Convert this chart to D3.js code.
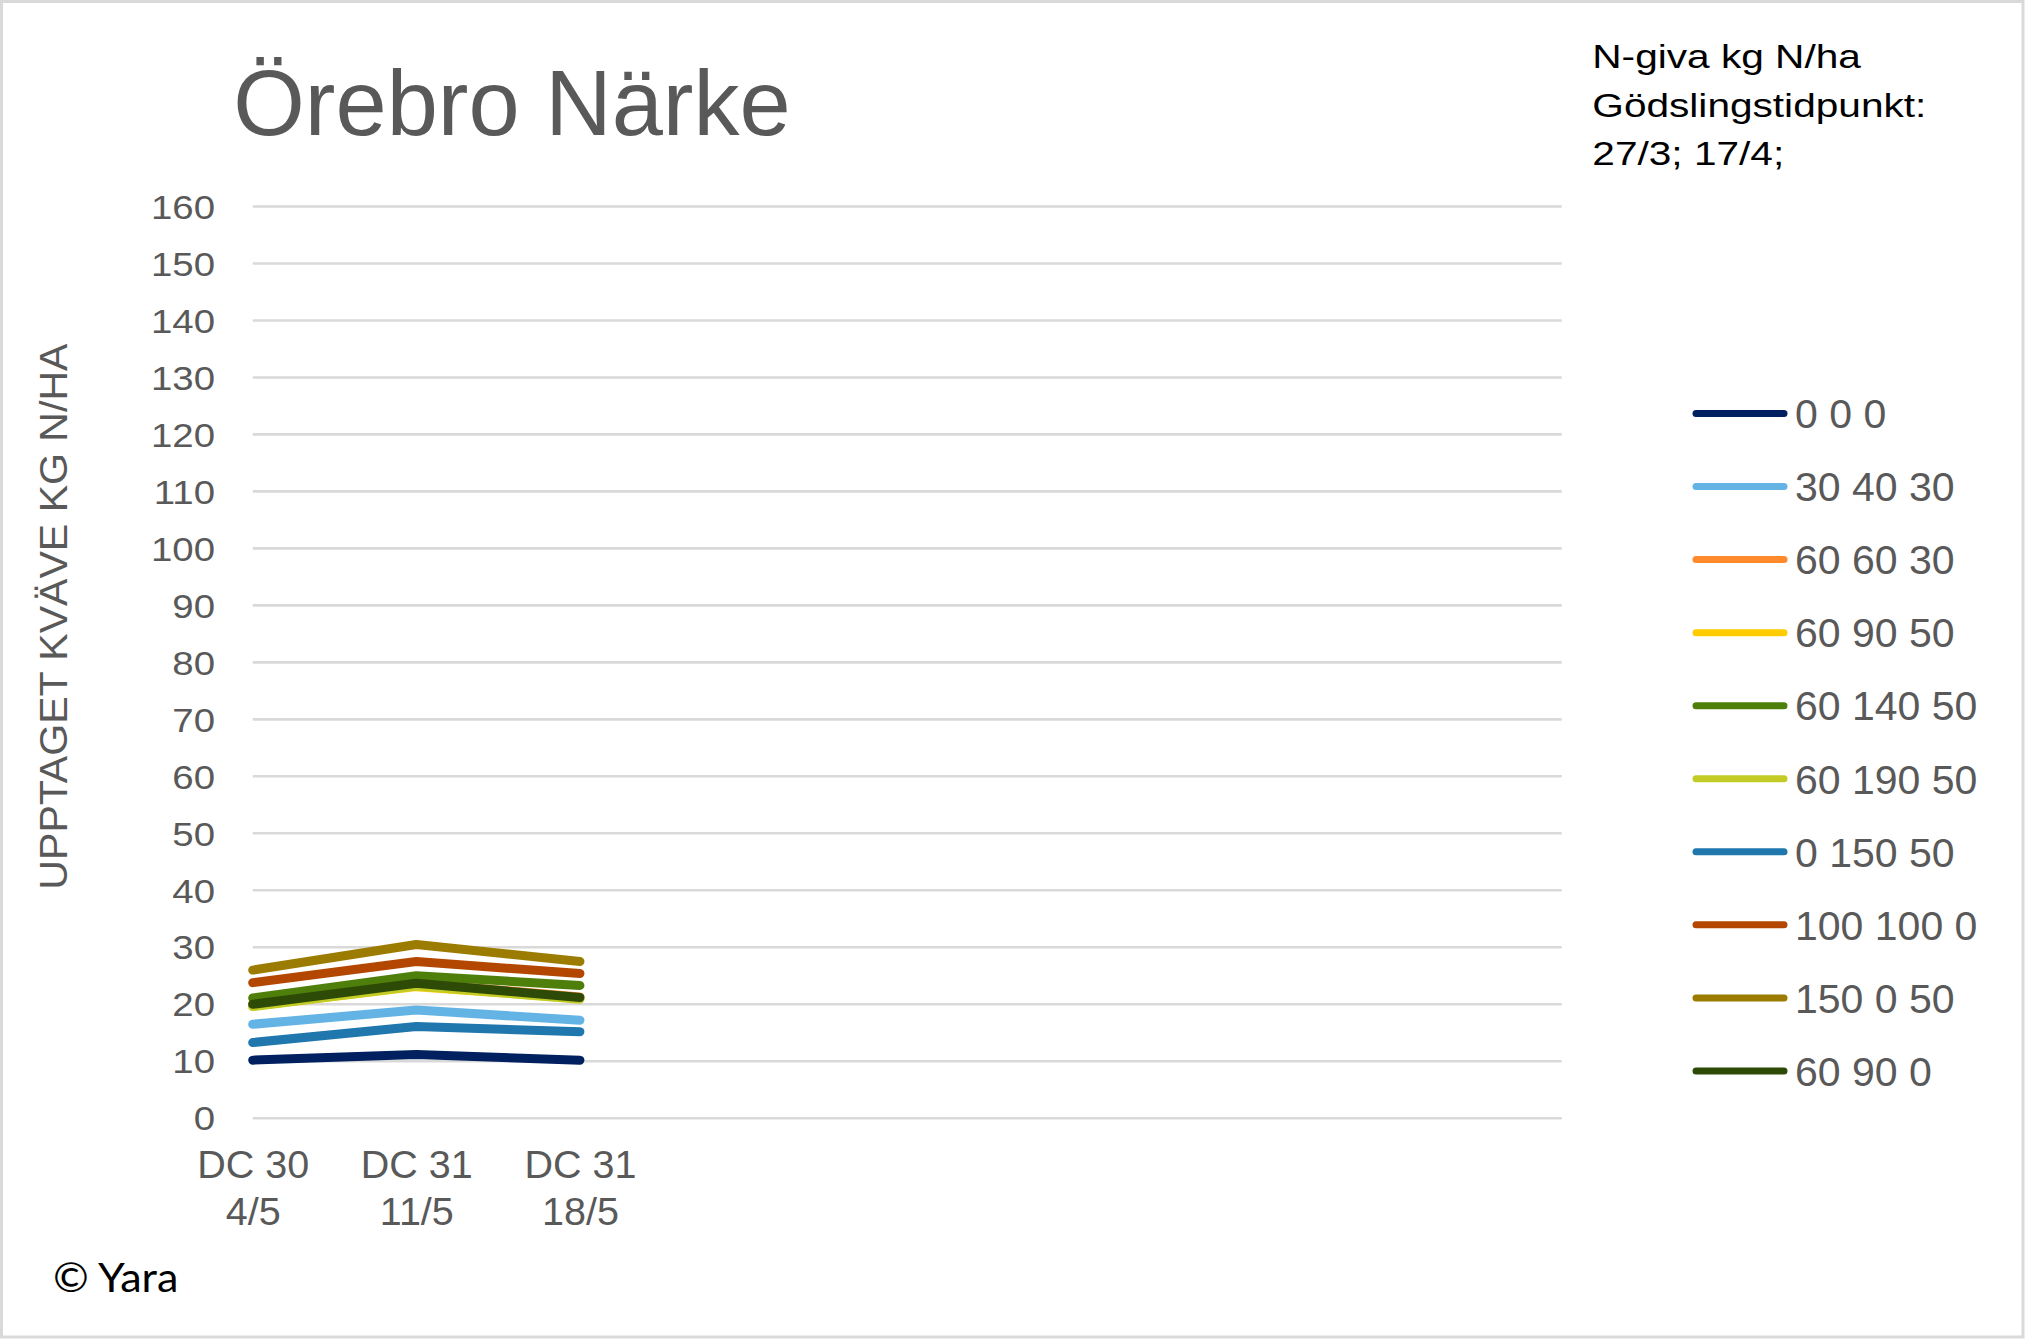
<!DOCTYPE html>
<html>
<head>
<meta charset="utf-8">
<script src="https://cdn.jsdelivr.net/npm/d3@7"></script>
<style>
  html, body { margin: 0; padding: 0; background: #fff; }
  svg { display: block; }
</style>
</head>
<body>
<svg id="chart" width="2026" height="1340"></svg>
<script>
// ---- data ----
const categories = [["DC 30", "4/5"], ["DC 31", "11/5"], ["DC 31", "18/5"], ["", ""], ["", ""], ["", ""], ["", ""], ["", ""], ["", ""]];
const seriesNames = ["0 0 0", "30 40 30", "60 60 30", "60 90 50", "60 140 50", "60 190 50", "0 150 50", "100 100 0", "150 0 50", "60 90 0"];
const seriesColors = ["#002060", "#63B4E4", "#FF8A2C", "#FFCC00", "#4F7F0B", "#C2CC24", "#1F77AD", "#B34700", "#9C7C00", "#2E4A07"];
const v000 = [10.1, 11.1, 10.1];
const v304030 = [16.4, 18.9, 17.1];
const v606030 = [20.0, 23.6, 21.2];
const v609050 = [19.6, 23.0, 20.9];
const v6014050 = [21.0, 24.9, 23.2];
const v6019050 = [19.5, 23.1, 20.8];
const v015050 = [13.2, 16.0, 15.1];
const v1001000 = [23.7, 27.4, 25.3];
const v150050 = [25.9, 30.4, 27.4];
const v60900 = [19.9, 23.6, 21.1];
const seriesValues = [v000, v304030, v606030, v609050, v6014050, v6019050, v015050, v1001000, v150050, v60900];
const yTicks = [0, 10, 20, 30, 40, 50, 60, 70, 80, 90, 100, 110, 120, 130, 140, 150, 160];
const titleText = "Örebro Närke";
const yLabelText = "UPPTAGET KVÄVE KG N/HA";
const noteLines = ["N-giva kg N/ha", "Gödslingstidpunkt:", "27/3; 17/4;"];
const copyrightText = "© Yara";

// ---- layout ----
const svg = d3.select("#chart");
const plotLeft = 252.7, plotRight = 1561.7, plotTop = 206, plotBottom = 1117.7;
const grey = "#595959";
const FONT = "'Liberation Sans', Arial, sans-serif";

// border
svg.append("rect").attr("x", 1.5).attr("y", 1.5).attr("width", 2021.5).attr("height", 1335.5)
  .attr("fill", "#fff").attr("stroke", "#d9d9d9").attr("stroke-width", 3);

const x = d3.scalePoint().domain(d3.range(categories.length)).range([plotLeft, plotRight]).padding(0);
const y = d3.scaleLinear().domain([0, 160]).range([plotBottom, plotTop]);

// gridlines
const grid = svg.append("g").attr("transform", `translate(${plotLeft},0)`)
  .call(d3.axisLeft(y).tickValues(yTicks).tickSize(-(plotRight - plotLeft)).tickFormat(""));
grid.select(".domain").remove();
grid.selectAll(".tick line").attr("stroke", "#d9d9d9").attr("stroke-width", 2.6);

// y tick labels
const yAxis = svg.append("g").attr("transform", `translate(${plotLeft},0)`)
  .call(d3.axisLeft(y).tickValues(yTicks).tickSize(0).tickPadding(0));
yAxis.select(".domain").remove();
yAxis.selectAll(".tick text")
  .attr("x", 0).attr("dy", "0.36em")
  .attr("transform", "translate(-37.7,0) scale(1.13,1)")
  .attr("font-family", FONT).attr("font-size", 34).attr("fill", grey).attr("text-anchor", "end");

// x labels
const xAxis = svg.append("g").attr("transform", `translate(0,${plotBottom})`)
  .call(d3.axisBottom(x).tickSize(0).tickFormat(""));
xAxis.select(".domain").remove();
xAxis.selectAll(".tick").each(function(d) {
  const t = d3.select(this).append("text")
    .attr("font-family", FONT).attr("font-size", 39.5).attr("fill", grey).attr("text-anchor", "middle");
  t.append("tspan").attr("x", 0).attr("y", 60.6).text(categories[d][0]);
  t.append("tspan").attr("x", 0).attr("y", 107.3).text(categories[d][1]);
});

// lines
const line = d3.line().x((d, i) => x(i)).y(d => y(d));
seriesValues.forEach((vals, si) => {
  svg.append("path").datum(vals)
    .attr("d", line)
    .attr("fill", "none")
    .attr("stroke", seriesColors[si])
    .attr("stroke-width", 9)
    .attr("stroke-linecap", "round")
    .attr("stroke-linejoin", "round");
});

// title
svg.append("text").attr("x", 233.3).attr("y", 135)
  .attr("font-family", FONT).attr("font-size", 92).attr("fill", grey).text(titleText);

// y label
svg.append("text")
  .attr("transform", "translate(66.7,616.6) rotate(-90) scale(1.04,1)")
  .attr("text-anchor", "middle")
  .attr("font-family", FONT).attr("font-size", 39.5).attr("fill", grey).text(yLabelText);

// note (top right)
noteLines.forEach((s, i) => {
  svg.append("text")
    .attr("transform", `translate(1592.3,${68.3 + i * 48.35}) scale(1.25,1)`)
    .attr("font-family", FONT).attr("font-size", 32.5).attr("fill", "#000").text(s);
});

// legend
const legend = svg.append("g");
seriesNames.forEach((name, i) => {
  const ly = 413.5 + i * 73.05;
  legend.append("line").attr("x1", 1696).attr("x2", 1784).attr("y1", ly).attr("y2", ly)
    .attr("stroke", seriesColors[i]).attr("stroke-width", 7).attr("stroke-linecap", "round");
  legend.append("text")
    .attr("x", 1795).attr("y", ly)
    .attr("dy", "0.36em")
    .attr("font-family", FONT).attr("font-size", 41).attr("fill", grey).text(name);
});

// copyright
svg.append("text").attr("transform", "translate(53,1291.7) scale(1.05,1)")
  .attr("font-family", "Lato, 'Open Sans', sans-serif").attr("font-size", 41).attr("fill", "#000").text(copyrightText);
</script>
</body>
</html>
